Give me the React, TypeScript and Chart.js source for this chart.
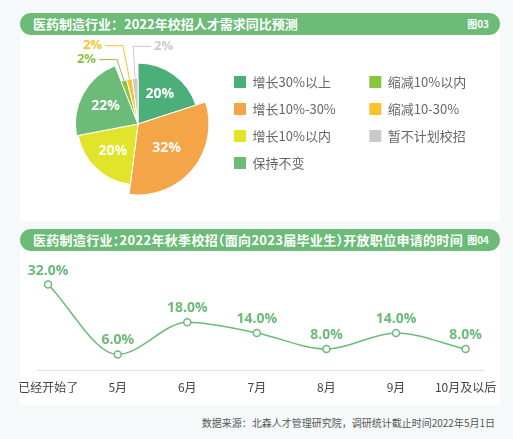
import React, { useEffect, useRef } from 'react';
import { Chart, registerables } from 'chart.js';

Chart.register(...registerables);

// ---------- data ----------
const pieLabels = ['增长30%以上', '增长10%-30%', '增长10%以内', '保持不变', '缩减10%以内', '缩减10-30%', '暂不计划校招'];
const pieValues = [20, 32, 20, 22, 2, 2, 2];
const pieColors = ['#4caf7a', '#f4a548', '#e2e42c', '#6cbb78', '#8bc43f', '#fbc22f', '#cacaca'];

const months = ['已经开始了', '5月', '6月', '7月', '8月', '9月', '10月及以后'];
const shares = [32, 6, 18, 14, 8, 14, 8];

const title1 = '医药制造行业：2022年校招人才需求同比预测';
const title2 = '医药制造行业：2022年秋季校招（面向2023届毕业生）开放职位申请的时间';
const source = '数据来源：北森人才管理研究院，调研统计截止时间2022年5月1日';

// ---------- style ----------
const GREEN = '#6cbb78';
const CJK = '"Noto Sans CJK SC", "Noto Sans", sans-serif';
const NUM = '"Open Sans", "Noto Sans", sans-serif';
const radiusFloor = 0.62; // share of outer radius kept for a 0 value (rose layout)

const pieLabelPlugin = {
  id: 'pieLabels',
  afterDatasetsDraw(chart: any) {
    const meta = chart.getDatasetMeta(0);
    const ctx = chart.ctx;
    const R = chart.scales.r.drawingArea;
    const outer: Record<number, { side: number; len: number }> = {
      4: { side: -1, len: 22 },
      5: { side: -1, len: 34 },
      6: { side: 1, len: 32 },
    };
    ctx.save();
    meta.data.forEach((arc: any, i: number) => {
      const { x, y, startAngle, endAngle, outerRadius } = arc.getProps(['x', 'y', 'startAngle', 'endAngle', 'outerRadius'], true);
      const mid = (startAngle + endAngle) / 2;
      const text = pieValues[i] + '%';
      if (pieValues[i] >= 5) {
        const d = R * 0.52;
        ctx.fillStyle = '#ffffff';
        ctx.font = `bold 14px ${NUM}`;
        ctx.textAlign = 'center';
        ctx.textBaseline = 'middle';
        ctx.fillText(text, x + Math.cos(mid) * d, y + Math.sin(mid) * d);
      } else {
        const o = outer[i] || { side: -1, len: 20 };
        const c = Math.cos(mid), s = Math.sin(mid);
        const p1x = x + c * outerRadius, p1y = y + s * outerRadius;
        const p2x = x + c * (outerRadius + o.len), p2y = y + s * (outerRadius + o.len);
        const p3x = p2x + o.side * 18;
        ctx.strokeStyle = pieColors[i];
        ctx.lineWidth = 1;
        ctx.beginPath();
        ctx.moveTo(p1x, p1y);
        ctx.lineTo(p2x, p2y);
        ctx.lineTo(p3x, p2y);
        ctx.stroke();
        ctx.fillStyle = pieColors[i];
        ctx.font = `bold 13px ${NUM}`;
        ctx.textAlign = o.side < 0 ? 'right' : 'left';
        ctx.textBaseline = 'middle';
        ctx.fillText(text, p3x + o.side * 3, p2y);
      }
    });
    ctx.restore();
  },
};

const lineLabelPlugin = {
  id: 'lineLabels',
  afterDatasetsDraw(chart: any) {
    const meta = chart.getDatasetMeta(0);
    const ctx = chart.ctx;
    ctx.save();
    ctx.fillStyle = GREEN;
    ctx.font = `bold 14px ${NUM}`;
    ctx.textAlign = 'center';
    ctx.textBaseline = 'middle';
    meta.data.forEach((pt: any, i: number) => {
      ctx.fillText(shares[i].toFixed(1) + '%', pt.x, pt.y - 14);
    });
    ctx.restore();
  },
};

function PieChart() {
  const ref = useRef<HTMLCanvasElement>(null);
  useEffect(() => {
    const total = pieValues.reduce((a, b) => a + b, 0);
    const maxV = Math.max(...pieValues);
    const rMin = (-radiusFloor * maxV) / (1 - radiusFloor);
    const canvasW = 480;
    const legendLeft = 200; // canvas px where the legend box starts
    const chart: any = new Chart(ref.current!, {
      type: 'polarArea',
      data: {
        labels: pieLabels,
        datasets: [
          {
            data: pieValues,
            backgroundColor: pieColors,
            borderColor: '#ffffff',
            borderWidth: 1,
            angle: (c: any) => (pieValues[c.dataIndex] / total) * 360,
          } as any,
        ],
      },
      options: {
        animation: false,
        responsive: false,
        layout: { padding: { left: 36, top: 15, bottom: 5, right: 20 } },
        scales: {
          r: { display: false, min: rMin, max: maxV },
        },
        plugins: {
          tooltip: { enabled: false },
          legend: {
            position: 'right',
            align: 'start',
            maxWidth: 1000,
            title: { display: true, text: '', font: { size: 5, lineHeight: 1 }, padding: { top: 3.5, bottom: 0 } },
            labels: {
              boxWidth: 12,
              boxHeight: 12,
              padding: 14,
              color: '#555555',
              font: { size: 13, family: CJK },
              generateLabels: () =>
                pieLabels.map((t, i) => ({
                  text: t + '\u3000\u2002',
                  fillStyle: pieColors[i],
                  strokeStyle: pieColors[i],
                  lineWidth: 0,
                  hidden: false,
                  index: i,
                })),
            },
          },
        },
      } as any,
      plugins: [pieLabelPlugin],
    });
    // place the legend box so that it starts at legendLeft
    const W = chart.legend.width;
    chart.options.layout.padding = { left: 36, top: 15, bottom: 5, right: canvasW - legendLeft - W };
    chart.update();
    return () => chart.destroy();
  }, []);
  return <canvas ref={ref} width={480} height={162} style={{ position: 'absolute', left: 20, top: 38 }} />;
}

function LineChart() {
  const ref = useRef<HTMLCanvasElement>(null);
  useEffect(() => {
    const chart = new Chart(ref.current!, {
      type: 'line',
      data: {
        labels: months,
        datasets: [
          {
            data: shares.map((v, i) => ({ x: i, y: v })),
            borderColor: GREEN,
            borderWidth: 1.5,
            pointRadius: 3.5,
            pointBackgroundColor: '#ffffff',
            pointBorderColor: GREEN,
            pointBorderWidth: 1.5,
            cubicInterpolationMode: 'monotone',
            fill: false,
          },
        ],
      },
      options: {
        animation: false,
        responsive: false,
        layout: { padding: { left: 37, right: 30, top: 15, bottom: 0 } },
        scales: {
          x: {
            type: 'linear',
            min: -0.16,
            max: 6.25,
            grid: { display: false, drawTicks: false },
            border: { display: true, color: '#dddddd', width: 1 },
            afterBuildTicks: (s: any) => {
              s.ticks = months.map((_, i) => ({ value: i }));
            },
            ticks: {
              padding: 10,
              color: '#444444',
              autoSkip: false,
              maxRotation: 0,
              font: { size: 12, family: CJK },
              callback: (v: any) => months[v] ?? '',
            },
          },
          y: { display: false, min: 0, max: 37.4 },
        },
        plugins: { legend: { display: false }, tooltip: { enabled: false } },
      } as any,
      plugins: [lineLabelPlugin],
    });
    return () => chart.destroy();
  }, []);
  return <canvas ref={ref} width={513} height={150} style={{ position: 'absolute', left: 0, top: 255 }} />;
}

function TitleBar({ top, text, tag, compact }: { top: number; text: string; tag: string; compact?: boolean }) {
  return (
    <div
      style={{
        position: 'absolute',
        left: 20,
        top,
        width: 480,
        height: 22,
        borderRadius: 11,
        background: GREEN,
        color: '#ffffff',
        fontFamily: CJK,
        fontWeight: 700,
        fontSize: 13,
        lineHeight: '22px',
        paddingLeft: 13,
        boxSizing: 'border-box',
        whiteSpace: 'nowrap',
        fontFeatureSettings: compact ? '"halt"' : 'normal',
        letterSpacing: compact ? '0.3px' : 'normal',
      }}
    >
      {text}
      <span style={{ position: 'absolute', right: 11, top: 0, fontSize: 10, letterSpacing: 'normal' }}>{tag}</span>
    </div>
  );
}

export default function App() {
  return (
    <div
      style={{
        position: 'absolute',
        left: 0,
        top: 0,
        width: 513,
        height: 439,
        background: '#f6f9fa',
        overflow: 'hidden',
        fontFamily: CJK,
      }}
    >
      <div style={{ position: 'absolute', left: 20, top: 24, width: 480, height: 197, background: '#ffffff' }} />
      <div style={{ position: 'absolute', left: 20, top: 240, width: 480, height: 165, background: '#ffffff' }} />
      <TitleBar top={13} text={title1} tag="图03" />
      <PieChart />
      <TitleBar top={229} text={title2} tag="图04" compact />
      <LineChart />
      <div
        style={{
          position: 'absolute',
          right: 18,
          top: 416,
          fontSize: 10,
          lineHeight: '14px',
          color: '#555555',
          whiteSpace: 'nowrap',
        }}
      >
        {source}
      </div>
    </div>
  );
}
